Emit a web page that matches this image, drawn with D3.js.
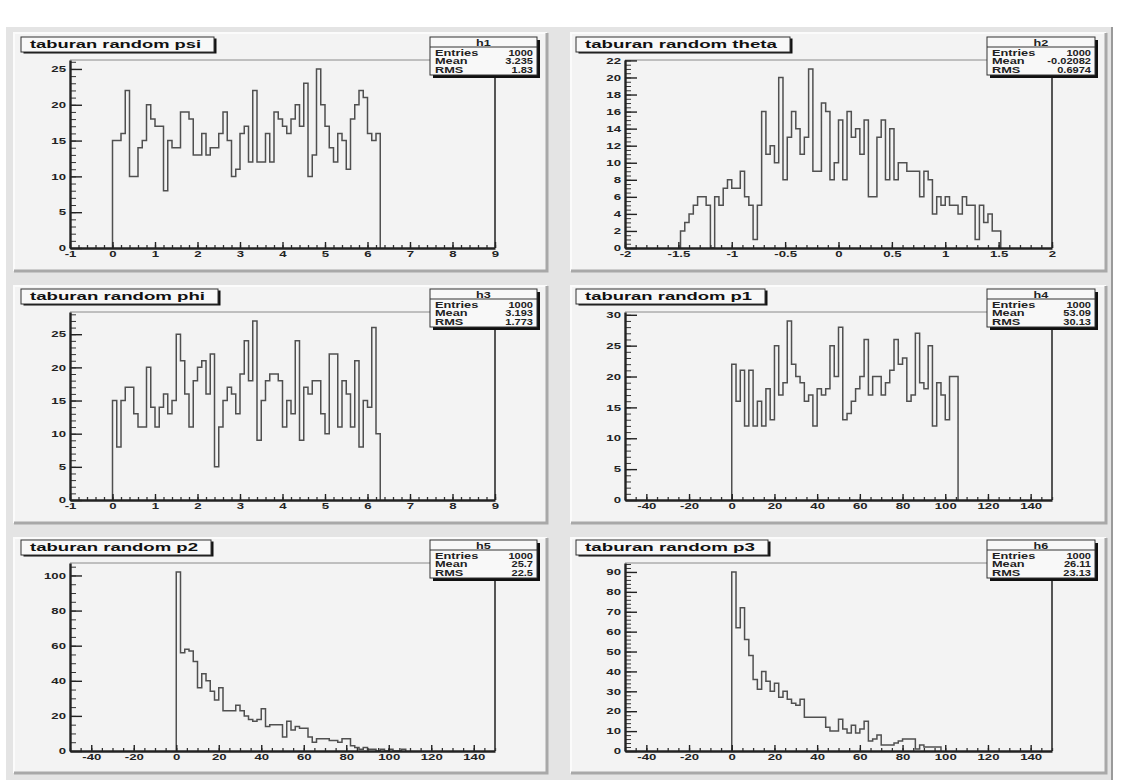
<!DOCTYPE html>
<html>
<head>
<meta charset="utf-8">
<script src="https://cdn.jsdelivr.net/npm/d3@7"></script>
<style>
  body { margin: 0; background: #fff; }
  text { font-family: "Liberation Sans", Arial, sans-serif; }
</style>
</head>
<body>
<svg width="1123" height="780"></svg>
<script>
// bin contents (100 bins over each x range)
const psiCounts = [15,15,16,22,10,10,14,15,20,18, 17,17,8,15,14,14,19,19,18,13, 13,16,13,14,14,16,19,15,10,11,
  16,17,12,22,12,12,16,12,19,18, 17,16,18,20,17,23,10,13,25,20, 17,14,12,16,15,11,18,20,22,21, 16,15,16];
const thetaCounts = [2,3,4,5,6,6,5,0,6,5, 7,8,7,7,9,6,5,1,5,16, 11,12,10,20,8,13,16,14,11,13,
  21,9,9,17,16,8,10,15,8,16, 13,14,11,15,6,6,13,15,8,14, 8,10,10,9,9,9,6,9,8,4, 6,5,6,5,5,4,6,5,5,1, 5,3,4,2,2];
const phiCounts = [15,8,15,17,17,13,11,11,20,14, 11,14,16,13,15,25,21,16,11,18, 20,21,16,22,5,11,15,17,16,13,
  19,24,18,27,9,15,18,19,19,18, 11,15,13,24,9,17,16,18,18,13, 10,22,22,11,18,16,11,21,8,15, 14,26,10];
const p1Counts = [22,16,21,12,21,12,16,12,18,13, 25,17,19,29,22,20,19,16,17,12, 18,17,18,25,20,28,13,14,16,18,
  20,26,17,20,20,17,19,21,26,22, 23,16,17,27,19,18,25,12,19,17, 13,20,20];
const p2Counts = [102,56,58,57,51,36,44,40,34,29, 36,23,23,23,26,23,20,18,17,18, 24,14,15,15,15,8,17,12,14,13,
  13,8,5,7,7,7,6,6,5,7, 7,3,2,1,2,1,1,0,1,0, 1,0,0,1];
const p3Counts = [90,62,72,56,48,36,31,40,35,30, 34,27,30,26,24,23,26,17,17,17, 17,17,12,10,10,16,11,9,13,9,
  11,15,5,6,8,3,3,3,4,5, 6,6,6,1,3,2,2,2,2];

const titles = ["taburan random psi", "taburan random theta", "taburan random phi",
  "taburan random p1", "taburan random p2", "taburan random p3"];
const histNames = ["h1", "h2", "h3", "h4", "h5", "h6"];
const entries = ["1000", "1000", "1000", "1000", "1000", "1000"];
const means = ["3.235", "-0.02082", "3.193", "53.09", "25.7", "26.11"];
const rmss = ["1.83", "0.6974", "1.773", "30.13", "22.5", "23.13"];

const xTicksAngle = [-1, 0, 1, 2, 3, 4, 5, 6, 7, 8, 9];
const xTicksTheta = [-2, -1.5, -1, -0.5, 0, 0.5, 1, 1.5, 2];
const xTicksP = [-40, -20, 0, 20, 40, 60, 80, 100, 120, 140];
const yTicksPsi = [0, 5, 10, 15, 20, 25];
const yTicksTheta = [0, 2, 4, 6, 8, 10, 12, 14, 16, 18, 20, 22];
const yTicksPhi = [0, 5, 10, 15, 20, 25];
const yTicksP1 = [0, 5, 10, 15, 20, 25, 30];
const yTicksP2 = [0, 20, 40, 60, 80, 100];
const yTicksP3 = [0, 10, 20, 30, 40, 50, 60, 70, 80, 90];

const panels = [
  { counts: psiCounts, start: 0, width: 0.1, xDomain: [-1, 9], xTicks: xTicksAngle, xMinor: 0.2, yTicks: yTicksPsi, yMinor: 1 },
  { counts: thetaCounts, start: -1.48, width: 0.04, xDomain: [-2, 2], xTicks: xTicksTheta, xMinor: 0.1, yTicks: yTicksTheta, yMinor: 0.5 },
  { counts: phiCounts, start: 0, width: 0.1, xDomain: [-1, 9], xTicks: xTicksAngle, xMinor: 0.2, yTicks: yTicksPhi, yMinor: 1 },
  { counts: p1Counts, start: 0, width: 2, xDomain: [-50, 150], xTicks: xTicksP, xMinor: 5, yTicks: yTicksP1, yMinor: 1 },
  { counts: p2Counts, start: 0, width: 2, xDomain: [-50, 150], xTicks: xTicksP, xMinor: 5, yTicks: yTicksP2, yMinor: 5 },
  { counts: p3Counts, start: 0, width: 2, xDomain: [-50, 150], xTicks: xTicksP, xMinor: 5, yTicks: yTicksP3, yMinor: 2 }
];

// page geometry
const cols = [
  { pad: [14, 547], frame: [70, 495], title: 21, stats: [430, 537] },
  { pad: [571, 1106], frame: [625, 1052], title: 576, stats: [987, 1095] }
];
const rows = [
  { pad: [33, 271], frame: [60, 248], box: 37 },
  { pad: [286, 523], frame: [312, 500], box: 289 },
  { pad: [538, 773], frame: [563, 751], box: 540 }
];
const titleWidths = [193, 214, 197, 189, 190, 192];

const svg = d3.select('svg');

// the old ROOT canvas text is drawn wide, so stretch each text horizontally
function stretch(sel, k) {
  sel.each(function () {
    const w = this.getComputedTextLength();
    d3.select(this).attr('textLength', w * k).attr('lengthAdjust', 'spacingAndGlyphs');
  });
}

// canvas
svg.append('rect').attr('x', 6).attr('y', 27).attr('width', 1106).attr('height', 753).attr('fill', '#e4e4e4');
svg.append('line').attr('x1', 1112).attr('x2', 1112).attr('y1', 27).attr('y2', 780)
  .attr('stroke', '#9a9a9a').attr('stroke-width', 2);

panels.forEach((p, i) => {
  const c = cols[i % 2], r = rows[Math.floor(i / 2)];
  const g = svg.append('g');

  // pad with bevel
  g.append('rect')
    .attr('x', c.pad[0]).attr('y', r.pad[0])
    .attr('width', c.pad[1] - c.pad[0]).attr('height', r.pad[1] - r.pad[0])
    .attr('fill', '#f3f3f3');
  g.append('path')
    .attr('d', `M${c.pad[0]},${r.pad[1]}V${r.pad[0]}H${c.pad[1]}`)
    .attr('fill', 'none').attr('stroke', '#fbfbfb').attr('stroke-width', 2);
  g.append('path')
    .attr('d', `M${c.pad[0]},${r.pad[1]}H${c.pad[1]}V${r.pad[0]}`)
    .attr('fill', 'none').attr('stroke', '#a8a8a8').attr('stroke-width', 3);

  const x = d3.scaleLinear().domain(p.xDomain).range(c.frame);
  const yMax = d3.max(p.counts) * 1.05;
  const y = d3.scaleLinear().domain([0, yMax]).range([r.frame[1], r.frame[0]]);

  // frame top/right
  g.append('line').attr('x1', c.frame[0]).attr('x2', c.frame[1]).attr('y1', r.frame[0]).attr('y2', r.frame[0])
    .attr('stroke', '#8a8a8a').attr('stroke-width', 1);
  g.append('line').attr('x1', c.frame[1]).attr('x2', c.frame[1]).attr('y1', r.frame[0]).attr('y2', r.frame[1])
    .attr('stroke', '#555').attr('stroke-width', 2);

  // histogram outline
  const n = p.counts.length;
  const pts = [[p.start, 0]]
    .concat(p.counts.map((v, k) => [p.start + k * p.width, v]))
    .concat([[p.start + n * p.width, 0]]);
  const line = d3.line().x(d => x(d[0])).y(d => y(d[1])).curve(d3.curveStepAfter);
  g.append('path').attr('d', line(pts))
    .attr('fill', 'none').attr('stroke', '#505050').attr('stroke-width', 1.5);

  // minor ticks
  const xMinorVals = d3.range(Math.ceil(p.xDomain[0] / p.xMinor), Math.floor(p.xDomain[1] / p.xMinor) + 1)
    .map(k => +(k * p.xMinor).toFixed(6));
  const yMinorVals = d3.range(0, Math.floor(yMax / p.yMinor) + 1).map(k => +(k * p.yMinor).toFixed(6));

  g.append('g').attr('transform', `translate(0,${r.frame[1]})`)
    .call(d3.axisBottom(x).tickValues(xMinorVals).tickSize(-3).tickSizeOuter(0).tickFormat(''))
    .call(s => s.select('.domain').remove())
    .selectAll('line').attr('stroke', '#333').attr('stroke-width', 1.3);
  g.append('g').attr('transform', `translate(${c.frame[0]},0)`)
    .call(d3.axisLeft(y).tickValues(yMinorVals).tickSize(-6).tickSizeOuter(0).tickFormat(''))
    .call(s => s.select('.domain').remove())
    .selectAll('line').attr('stroke', '#333');

  // major axes
  const xAxis = g.append('g').attr('transform', `translate(0,${r.frame[1]})`)
    .call(d3.axisBottom(x).tickValues(p.xTicks).tickSize(-6).tickSizeOuter(0).tickPadding(3).tickFormat(d => String(d)));
  xAxis.select('.domain').attr('stroke', '#222').attr('stroke-width', 2.4);
  xAxis.selectAll('line').attr('stroke', '#222').attr('stroke-width', 1.4);
  xAxis.selectAll('text').attr('font-size', 8.5).attr('font-weight', 'bold').attr('fill', '#222')
    .call(stretch, 1.55);

  const yAxis = g.append('g').attr('transform', `translate(${c.frame[0]},0)`)
    .call(d3.axisLeft(y).tickValues(p.yTicks).tickSize(-12).tickSizeOuter(0).tickPadding(4).tickFormat(d => String(d)));
  yAxis.select('.domain').attr('stroke', '#222').attr('stroke-width', 2.4);
  yAxis.selectAll('line').attr('stroke', '#222').attr('stroke-width', 1.4);
  yAxis.selectAll('text').attr('font-size', 8.5).attr('font-weight', 'bold').attr('fill', '#222')
    .call(stretch, 1.55);

  // title box
  const tx = c.title, ty = r.box, tw = titleWidths[i], th = 15;
  g.append('rect').attr('x', tx + 2.5).attr('y', ty + 1.5).attr('width', tw).attr('height', th).attr('fill', '#111');
  g.append('rect').attr('x', tx).attr('y', ty).attr('width', tw).attr('height', th)
    .attr('fill', '#f8f8f8').attr('stroke', '#333').attr('stroke-width', 1);
  g.append('text').attr('x', tx + 9).attr('y', ty + 11)
    .attr('font-size', 11.5).attr('font-weight', 'bold').attr('fill', '#111')
    .attr('textLength', tw - 22).attr('lengthAdjust', 'spacingAndGlyphs')
    .text(titles[i]);

  // stats box
  const sx0 = c.stats[0], sx1 = c.stats[1], sy = r.box, sh = 38;
  g.append('rect').attr('x', sx0 + 3).attr('y', sy + 3).attr('width', sx1 - sx0).attr('height', sh).attr('fill', '#111');
  g.append('rect').attr('x', sx0).attr('y', sy).attr('width', sx1 - sx0).attr('height', sh)
    .attr('fill', '#f8f8f8').attr('stroke', '#333').attr('stroke-width', 1);
  g.append('line').attr('x1', sx0).attr('x2', sx1).attr('y1', sy + 10).attr('y2', sy + 10)
    .attr('stroke', '#333').attr('stroke-width', 1);
  g.append('text').attr('x', (sx0 + sx1) / 2).attr('y', sy + 8.5).attr('text-anchor', 'middle')
    .attr('font-size', 9).attr('font-weight', 'bold').attr('fill', '#222').text(histNames[i])
    .call(stretch, 1.4);
  const rowsText = [["Entries", entries[i]], ["Mean", means[i]], ["RMS", rmss[i]]];
  rowsText.forEach((rt, j) => {
    g.append('text').attr('x', sx0 + 5).attr('y', sy + 18.5 + j * 8.7)
      .attr('font-size', 8.5).attr('font-weight', 'bold').attr('fill', '#222').text(rt[0])
      .call(stretch, 1.5);
    g.append('text').attr('x', sx1 - 4).attr('y', sy + 18.5 + j * 8.7).attr('text-anchor', 'end')
      .attr('font-size', 8.5).attr('font-weight', 'bold').attr('fill', '#222').text(rt[1])
      .call(stretch, 1.3);
  });
});
</script>
</body>
</html>
